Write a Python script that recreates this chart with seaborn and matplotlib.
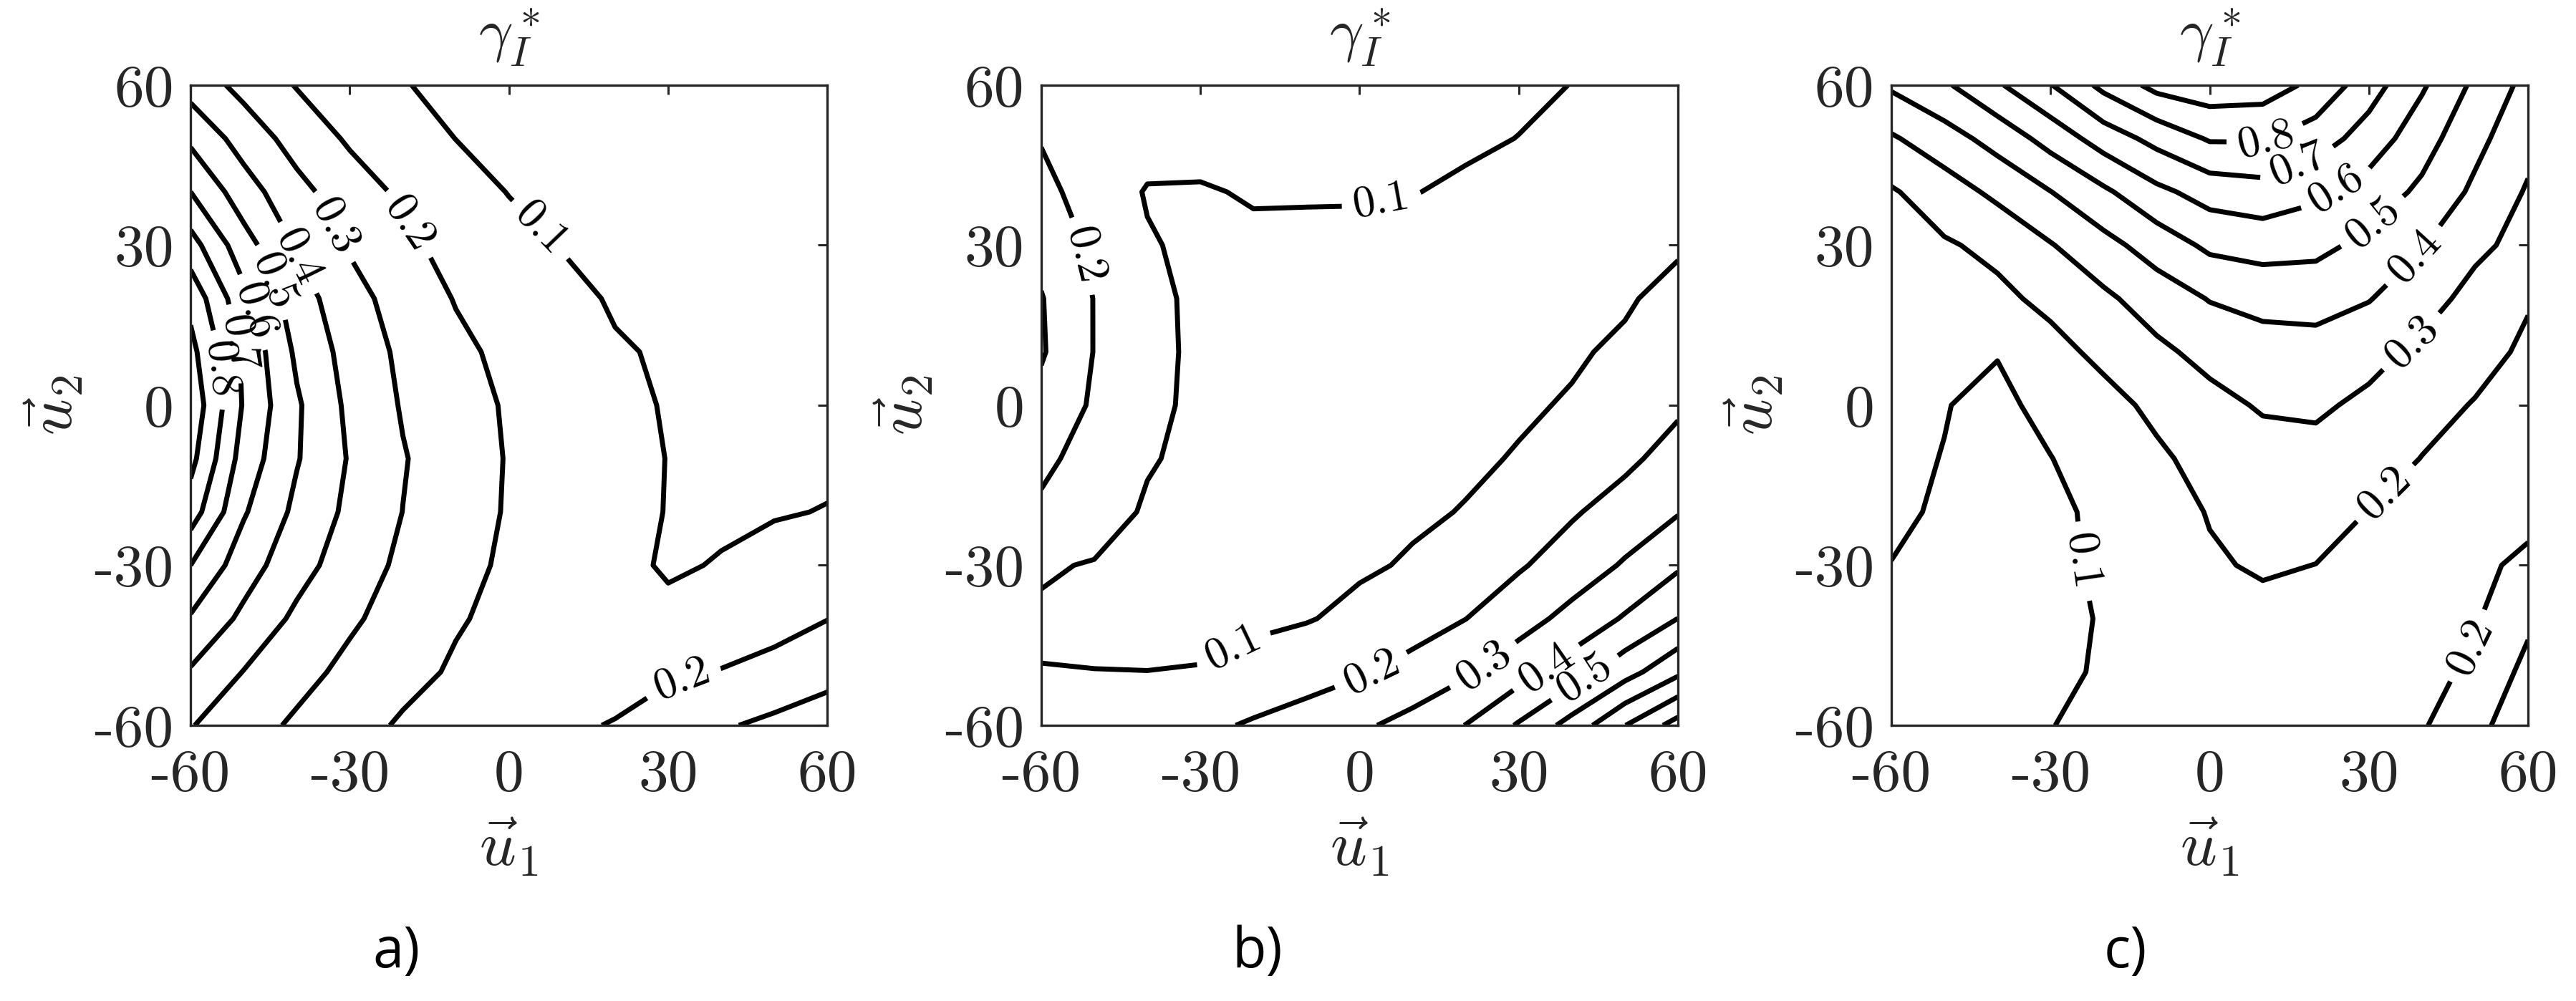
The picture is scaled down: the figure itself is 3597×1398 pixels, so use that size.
import numpy as np
import matplotlib
matplotlib.use('Agg')
import matplotlib.pyplot as plt
import seaborn as sns

# grid of the three maps (degrees)
u1 = [-60, -50, -40, -30, -20, -10, 0, 10, 20, 30, 40, 50, 60]
u2 = [60, 50, 40, 30, 20, 10, 0, -10, -20, -30, -40, -50, -60]   # rows top -> bottom
levels = [0.1, 0.2, 0.3, 0.4, 0.5, 0.6, 0.7, 0.8, 0.9]
tick_vals = [-60, -30, 0, 30, 60]
tick_labels = ['-60', '-30', '0', '30', '60']
panel_names = ['a)', 'b)', 'c)']

# gamma_I*, one row per u2 value (top row u2=60)
gamma_a = [
    [0.36, 0.27, 0.195, 0.15, 0.103, 0.085, 0.07, 0.06, 0.055, 0.055, 0.055, 0.055, 0.055],
    [0.48, 0.358, 0.261, 0.187, 0.143, 0.099, 0.085, 0.07, 0.065, 0.06, 0.06, 0.06, 0.06],
    [0.60, 0.445, 0.33, 0.246, 0.183, 0.14, 0.097, 0.085, 0.075, 0.07, 0.07, 0.07, 0.07],
    [0.74, 0.54, 0.39, 0.29, 0.22, 0.17, 0.13, 0.097, 0.085, 0.08, 0.075, 0.075, 0.075],
    [0.87, 0.626, 0.446, 0.337, 0.257, 0.195, 0.159, 0.12, 0.093, 0.085, 0.08, 0.08, 0.08],
    [0.93, 0.682, 0.482, 0.362, 0.28, 0.22, 0.178, 0.145, 0.106, 0.093, 0.088, 0.088, 0.088],
    [0.97, 0.69, 0.513, 0.378, 0.292, 0.238, 0.19, 0.157, 0.118, 0.095, 0.092, 0.092, 0.09],
    [0.93, 0.657, 0.507, 0.392, 0.306, 0.247, 0.194, 0.162, 0.13, 0.098, 0.094, 0.093, 0.09],
    [0.85, 0.61, 0.477, 0.378, 0.299, 0.242, 0.192, 0.16, 0.127, 0.097, 0.092, 0.096, 0.102],
    [0.70, 0.546, 0.4375, 0.35, 0.281, 0.228, 0.185, 0.151, 0.115, 0.094, 0.103, 0.12, 0.14],
    [0.59, 0.478, 0.38, 0.315, 0.259, 0.207, 0.18, 0.15, 0.125, 0.112, 0.13, 0.16, 0.198],
    [0.49, 0.397, 0.333, 0.275, 0.225, 0.19, 0.165, 0.15, 0.165, 0.185, 0.205, 0.235, 0.27],
    [0.405, 0.342, 0.284, 0.231, 0.19, 0.175, 0.17, 0.185, 0.205, 0.25, 0.29, 0.32, 0.35],
]

gamma_b = [
    [0.17, 0.16, 0.15, 0.14, 0.13, 0.125, 0.12, 0.115, 0.11, 0.106, 0.0995, 0.092, 0.085],
    [0.195, 0.16, 0.14, 0.13, 0.125, 0.12, 0.115, 0.11, 0.105, 0.0995, 0.093, 0.088, 0.082],
    [0.225, 0.161, 0.093, 0.093, 0.107, 0.106, 0.105, 0.101, 0.095, 0.09, 0.086, 0.082, 0.08],
    [0.27, 0.181, 0.108, 0.08, 0.085, 0.085, 0.086, 0.085, 0.082, 0.08, 0.08, 0.085, 0.092],
    [0.305, 0.197, 0.131, 0.075, 0.075, 0.075, 0.075, 0.075, 0.078, 0.082, 0.088, 0.093, 0.12],
    [0.31, 0.197, 0.136, 0.075, 0.07, 0.07, 0.07, 0.072, 0.078, 0.085, 0.093, 0.11, 0.15],
    [0.27, 0.187, 0.128, 0.075, 0.068, 0.068, 0.07, 0.075, 0.082, 0.092, 0.105, 0.14, 0.185],
    [0.22, 0.165, 0.107, 0.08, 0.07, 0.07, 0.075, 0.083, 0.09, 0.104, 0.135, 0.18, 0.237],
    [0.185, 0.14, 0.09, 0.078, 0.073, 0.076, 0.082, 0.09, 0.103, 0.15, 0.19, 0.24, 0.294],
    [0.108, 0.095, 0.085, 0.078, 0.076, 0.082, 0.09, 0.107, 0.15, 0.19, 0.245, 0.31, 0.386],
    [0.09, 0.085, 0.082, 0.082, 0.086, 0.095, 0.12, 0.16, 0.199, 0.26, 0.33, 0.41, 0.501],
    [0.102, 0.101, 0.1005, 0.103, 0.125, 0.155, 0.19, 0.23, 0.285, 0.36, 0.45, 0.56, 0.679],
    [0.125, 0.135, 0.15, 0.176, 0.212, 0.247, 0.283, 0.334, 0.402, 0.51, 0.637, 0.798, 0.94],
]

gamma_c = [
    [0.415, 0.485, 0.587, 0.695, 0.826, 0.93, 0.96, 0.95, 0.875, 0.744, 0.613, 0.48, 0.37],
    [0.288, 0.358, 0.437, 0.537, 0.645, 0.731, 0.81, 0.81, 0.75, 0.656, 0.542, 0.428, 0.33],
    [0.19, 0.252, 0.323, 0.398, 0.482, 0.576, 0.64, 0.66, 0.62, 0.557, 0.48, 0.381, 0.29],
    [0.17, 0.19, 0.222, 0.294, 0.368, 0.444, 0.52, 0.54, 0.53, 0.471, 0.406, 0.32, 0.27],
    [0.15, 0.16, 0.18, 0.222, 0.281, 0.347, 0.405, 0.43, 0.43, 0.405, 0.338, 0.27, 0.207],
    [0.13, 0.118, 0.104, 0.171, 0.222, 0.279, 0.33, 0.36, 0.37, 0.33, 0.28, 0.23, 0.185],
    [0.12, 0.103, 0.08, 0.125, 0.17, 0.22, 0.27, 0.31, 0.315, 0.28, 0.23, 0.195, 0.16],
    [0.115, 0.098, 0.085, 0.098, 0.14, 0.185, 0.23, 0.26, 0.27, 0.24, 0.198, 0.17, 0.145],
    [0.11, 0.093, 0.08, 0.09, 0.11, 0.16, 0.205, 0.23, 0.235, 0.198, 0.17, 0.16, 0.18],
    [0.099, 0.085, 0.075, 0.085, 0.11, 0.15, 0.19, 0.21, 0.199, 0.17, 0.16, 0.185, 0.215],
    [0.085, 0.075, 0.07, 0.08, 0.105, 0.135, 0.16, 0.175, 0.17, 0.16, 0.17, 0.19, 0.28],
    [0.07, 0.065, 0.065, 0.08, 0.11, 0.135, 0.155, 0.165, 0.165, 0.165, 0.175, 0.215, 0.33],
    [0.06, 0.055, 0.06, 0.098, 0.12, 0.14, 0.15, 0.16, 0.165, 0.17, 0.192, 0.26, 0.39],
]

# where the inline level labels sit (u1, u2)
label_spots_a = [(6, 33), (-18.8, 34), (-32.8, 33.5), (-41, 27), (-45.2, 22.8),
                 (-48.3, 17.5), (-51.4, 11.5), (-54, 6.7), (32.9, -52.3)]
label_spots_b = [(-51.7, 28.1), (4.1, 38.3), (-23.3, -46.5), (2.6, -50.7),
                 (23.4, -48.9), (34.2, -47.9), (41.9, -50.2)]
label_spots_c = [(10.1, 51), (16.3, 46.1), (23.6, 40.8), (31, 34), (38.7, 27.8),
                 (38.7, 11.2), (32.7, -16.1), (-23.3, -29.2), (49, -45.2)]

sns.set_theme(style='white')
plt.rcParams['font.family'] = ['cmr10', 'DejaVu Serif']
plt.rcParams['mathtext.fontset'] = 'cm'
plt.rcParams['axes.unicode_minus'] = False
plt.rcParams['axes.formatter.use_mathtext'] = True

ink = '#262626'
fig = plt.figure(figsize=(35.97, 13.98), dpi=100)
lefts = [0.0740, 0.4042, 0.7342]
label_x = [0.154, 0.488, 0.825]

grids = [gamma_a, gamma_b, gamma_c]
spots = [label_spots_a, label_spots_b, label_spots_c]

for i in range(3):
    ax = fig.add_axes([lefts[i], 0.2754, 0.2472, 0.6395])
    z = np.array(grids[i])[::-1]
    cs = ax.contour(u1, u2[::-1], z, levels=levels, colors='black', linewidths=5.0)
    texts = ax.clabel(cs, fmt='%.1f', fontsize=45, inline=True, inline_spacing=16,
                      manual=spots[i])
    for t in texts:
        t.set_fontfamily('cmr10')

    ax.set_xlim(-60, 60)
    ax.set_ylim(-60, 60)
    ax.set_xticks(tick_vals)
    ax.set_xticklabels(tick_labels)
    ax.set_yticks(tick_vals)
    ax.set_yticklabels(tick_labels)
    ax.tick_params(direction='in', length=9.5, width=2.2, top=True, right=True,
                   labelsize=60, colors=ink)
    ax.tick_params(axis='x', pad=24)
    ax.tick_params(axis='y', pad=17)
    for s in ax.spines.values():
        s.set_linewidth(2.4)
        s.set_color(ink)
    ax.set_xlabel(r'$\vec{u}_1$', fontsize=64, color=ink, labelpad=14)
    ax.set_ylabel(r'$\vec{u}_2$', fontsize=64, color=ink, labelpad=10)
    ax.set_title(r'$\gamma_I^*$', fontsize=60, color=ink, pad=34)
    fig.text(label_x[i], 0.048, panel_names[i], fontsize=56, family='Open Sans',
             color='black', ha='center', va='center')

fig.savefig('out.png', dpi=100, facecolor='white')
